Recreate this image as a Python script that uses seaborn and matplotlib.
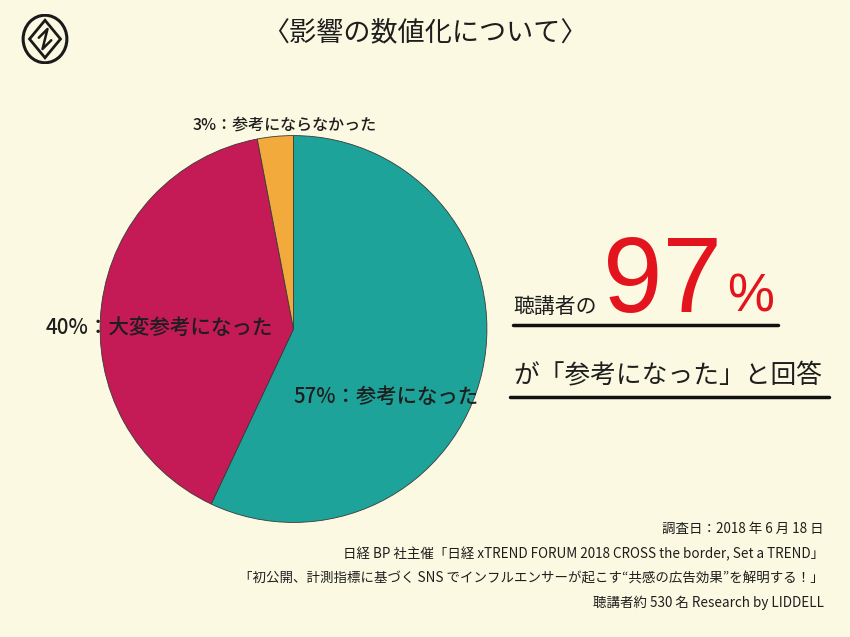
import matplotlib
matplotlib.use("Agg")
import matplotlib.pyplot as plt
import seaborn as sns
from matplotlib.patches import Ellipse, Polygon
from matplotlib.lines import Line2D

categories = ["参考になった", "大変参考になった", "参考にならなかった"]
values = [57, 40, 3]
colors = ["#1DA39A", "#C41A56", "#F2AA3C"]
title = "〈影響の数値化について〉"
headline_pre = "聴講者の"
headline_num = "97"
headline_pct = "%"
headline_post = "が「参考になった」と回答"
footer = [
    "調査日：2018 年 6 月 18 日",
    "日経 BP 社主催「日経 xTREND FORUM 2018 CROSS the border, Set a TREND」",
    "「初公開、計測指標に基づく SNS でインフルエンサーが起こす“共感の広告効果”を解明する！」",
    "聴講者約 530 名 Research by LIDDELL",
]

BG = "#FBF9E1"
sns.set_theme(style="white", rc={"figure.facecolor": BG, "axes.facecolor": BG})
plt.rcParams["font.family"] = ["Noto Sans CJK JP", "DejaVu Sans"]

W, H = 850, 637
fig = plt.figure(figsize=(8.5, 6.37), dpi=100)
fig.patch.set_facecolor(BG)

def fx(x):
    return x / W

def fy(y):
    return 1 - y / H

# pie
ax = fig.add_axes([fx(99), fy(523), fx(389), 388 / H])
ax.pie(values, colors=colors, startangle=90, counterclock=False,
       wedgeprops=dict(edgecolor="#3a3a3a", linewidth=0.6))
ax.set_xlim(-1.003, 1.003)
ax.set_ylim(-1.003, 1.003)
ax.set_aspect("equal")
ax.axis("off")

TXT = "#1e1e1e"
# slice labels
fig.text(fx(193), fy(125), f"{values[2]}%：{categories[2]}", fontsize=11.5,
         ha="left", va="center", color=TXT, fontweight="medium")
fig.text(fx(46), fy(328), f"{values[1]}%：{categories[1]}", fontsize=14.8,
         ha="left", va="center", color=TXT, fontweight="medium")
fig.text(fx(293), fy(397), f"{values[0]}%：{categories[0]}", fontsize=14.7,
         ha="left", va="center", color=TXT, fontweight="medium")

# title
fig.text(fx(425), fy(33), title, fontsize=19.5, ha="center", va="center", color=TXT)

# logo
logo_ax = fig.add_axes([fx(20), fy(64), fx(50), 50 / H])
logo_ax.set_xlim(-1, 1)
logo_ax.set_ylim(-1, 1)
logo_ax.axis("off")
logo_ax.add_patch(Ellipse((0, 0), 1.75, 1.9, fill=False, lw=2.2, ec="#1a1a1a"))
logo_ax.add_patch(Polygon([(0, 0.75), (0.62, 0), (0, -0.75), (-0.62, 0)],
                          closed=True, fill=False, lw=2.0, ec="#1a1a1a"))
logo_ax.plot([-0.25, 0.1, -0.1, 0.25], [0.05, 0.4, -0.4, -0.05], color="#1a1a1a", lw=1.8)

# headline
fig.text(fx(513), fy(313), headline_pre, fontsize=15, ha="left", va="baseline", color=TXT)
fig.text(fx(603), fy(312), headline_num, fontsize=77, ha="left", va="baseline",
         color="#E3141E", family="Liberation Sans")
fig.text(fx(727), fy(312), headline_pct, fontsize=38, ha="left", va="baseline",
         color="#E3141E", family="Liberation Sans")
fig.add_artist(Line2D([fx(513), fx(778)], [fy(325), fy(325)], color="#111111", lw=2.5))
fig.text(fx(513), fy(376), headline_post, fontsize=18.5, ha="left", va="center", color=TXT)
fig.add_artist(Line2D([fx(510), fx(829)], [fy(397), fy(397)], color="#111111", lw=2.5))

# footer
for i, line in enumerate(footer):
    fig.text(fx(824), fy(529 + 24.7 * i), line, fontsize=9.7, ha="right", va="center",
             color=TXT)

fig.savefig("out.png", dpi=100, facecolor=BG)
